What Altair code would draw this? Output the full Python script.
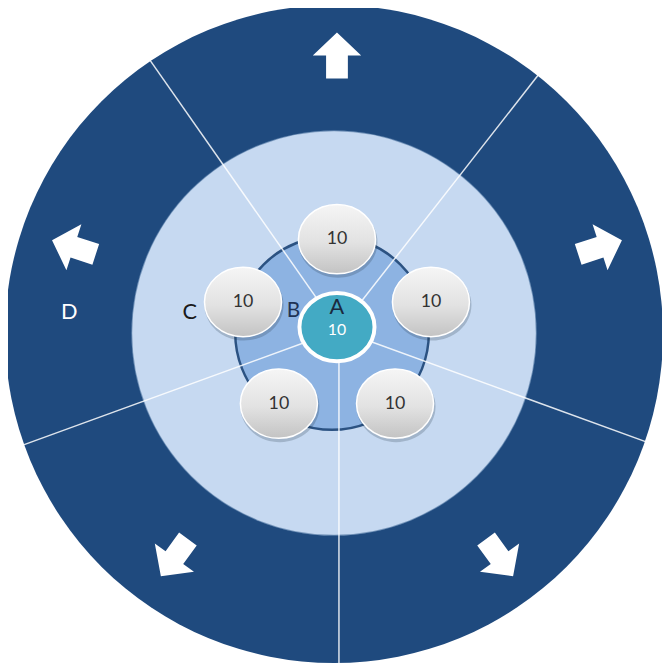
import math
import altair as alt
import pandas as pd

# ---------------- data ----------------
center_label = "A"
center_value = 10
ring_labels = ["B", "C", "D"]          # inner ring, middle ring, outer ring
node_values = [10, 10, 10, 10, 10]     # the five grey nodes
n_sectors = 5

# ---------------- geometry (page pixels) ----------------
W, H = 662, 655
OX, OY = 8, 8
CX, CY = 341, 330                      # hub centre
xs = alt.Scale(domain=[OX, OX + W])
ys = alt.Scale(domain=[OY, OY + H], reverse=True)

def enc_xy(ch):
    return ch.encode(
        x=alt.X("x:Q", scale=xs, axis=None),
        y=alt.Y("y:Q", scale=ys, axis=None),
    )

def circle_layer(x, y, r, **kw):
    df = pd.DataFrame({"x": [x], "y": [y]})
    return enc_xy(alt.Chart(df).mark_point(shape="circle", filled=True, opacity=1,
                                           size=(2 * r) ** 2, **kw))

ELLIPSE = "M-1,0 A1,0.9 0 1,1 1,0 A1,0.9 0 1,1 -1,0 Z"
TEAL_ELLIPSE = "M-1,0 A1,0.91 0 1,1 1,0 A1,0.91 0 1,1 -1,0 Z"
ARROW = "M0,-0.95 L1,0 L0.45,0 L0.45,0.95 L-0.45,0.95 L-0.45,0 L-1,0 Z"

step = 360 / n_sectors
divider_angles = [38, 110, 180, 250, 325]   # as drawn (slightly irregular)

# outer ring, middle disc, inner disc
outer = circle_layer(338, 334, 333, fill="#1f4a7e", strokeWidth=0)
middle = circle_layer(338, 333, 205, fill="#c6d9f1", stroke="#2d5a8c", strokeWidth=1.5, strokeOpacity=0.5)
inner = circle_layer(336, 333, 98, fill="#8db3e2", stroke="#2b5282", strokeWidth=2.5)

# sector dividers
rows = []
for ang in divider_angles:
    a = math.radians(ang)
    rows.append({"x": CX + 2, "y": CY,
                 "x2": CX + 2 + 345 * math.sin(a), "y2": CY - 345 * math.cos(a)})
lines_df = pd.DataFrame(rows)
lines = alt.Chart(lines_df).mark_rule(color="white", strokeWidth=1.5, opacity=0.85).encode(
    x=alt.X("x:Q", scale=xs, axis=None), y=alt.Y("y:Q", scale=ys, axis=None),
    x2="x2:Q", y2="y2:Q")

# arrows in the outer ring
arr = []
for k in range(n_sectors):
    a = math.radians(k * step)
    arr.append({"x": CX + 280 * math.sin(a), "y": 333 - 281 * math.cos(a), "rot": k * step})
arrows = enc_xy(alt.Chart(pd.DataFrame(arr)).mark_point(
    shape=ARROW, filled=True, fill="white", opacity=1, size=49 ** 2, strokeWidth=0)).encode(
    angle=alt.Angle("rot:Q", scale=None))

# grey nodes
nodes = []
for k, v in enumerate(node_values):
    a = math.radians(k * step)
    nodes.append({"x": CX + 100 * math.sin(a), "y": CY - 92 * math.cos(a), "t": str(v)})
nodes_df = pd.DataFrame(nodes)
shadow_df = nodes_df.assign(x=nodes_df.x + 1, y=nodes_df.y + 3)
shadows = enc_xy(alt.Chart(shadow_df).mark_point(
    shape=ELLIPSE, filled=True, fill="#203040", opacity=0.22, size=80 ** 2, strokeWidth=0))
grad = alt.Gradient(gradient="linear", x1=0, y1=0, x2=0, y2=1, stops=[
    alt.GradientStop(color="#f5f5f5", offset=0),
    alt.GradientStop(color="#e2e2e2", offset=0.55),
    alt.GradientStop(color="#c3c3c3", offset=1)])
node_marks = enc_xy(alt.Chart(nodes_df).mark_point(
    shape=ELLIPSE, filled=True, fill=grad, opacity=1, size=78 ** 2,
    stroke="white", strokeWidth=1.5))
node_text = enc_xy(alt.Chart(nodes_df).mark_text(
    font="Lato", fontSize=18, color="#333333", align="center", baseline="middle")).encode(
    text="t:N")

# hub
hub_df = pd.DataFrame({"x": [CX], "y": [327]})
hub = enc_xy(alt.Chart(hub_df).mark_point(
    shape=TEAL_ELLIPSE, filled=True, fill="#43aac4", opacity=1, size=76 ** 2,
    stroke="white", strokeWidth=4))

labels_df = pd.DataFrame({
    "x": [CX, CX, 297, 192, 70],
    "y": [307, 330, 311, 312, 312],
    "t": [center_label, str(center_value)] + ring_labels,
    "c": ["#1b2a3e", "#ffffff", "#1f3355", "#1a1a1a", "#ffffff"],
    "s": [22, 16, 21, 22, 22],
})
labels = enc_xy(alt.Chart(labels_df).mark_text(
    font="Lato", align="center", baseline="middle")).encode(
    text="t:N",
    color=alt.Color("c:N", scale=None),
    size=alt.Size("s:Q", scale=None))

chart = alt.layer(outer, middle, inner, lines, arrows, shadows, node_marks, node_text,
                  hub, labels).properties(
    width=W, height=H, padding=0,
    autosize=alt.AutoSizeParams(type="none"),
    background="white",
).configure_view(strokeWidth=0)

chart.save("out.html", embed_options={"renderer": "svg", "actions": False})
